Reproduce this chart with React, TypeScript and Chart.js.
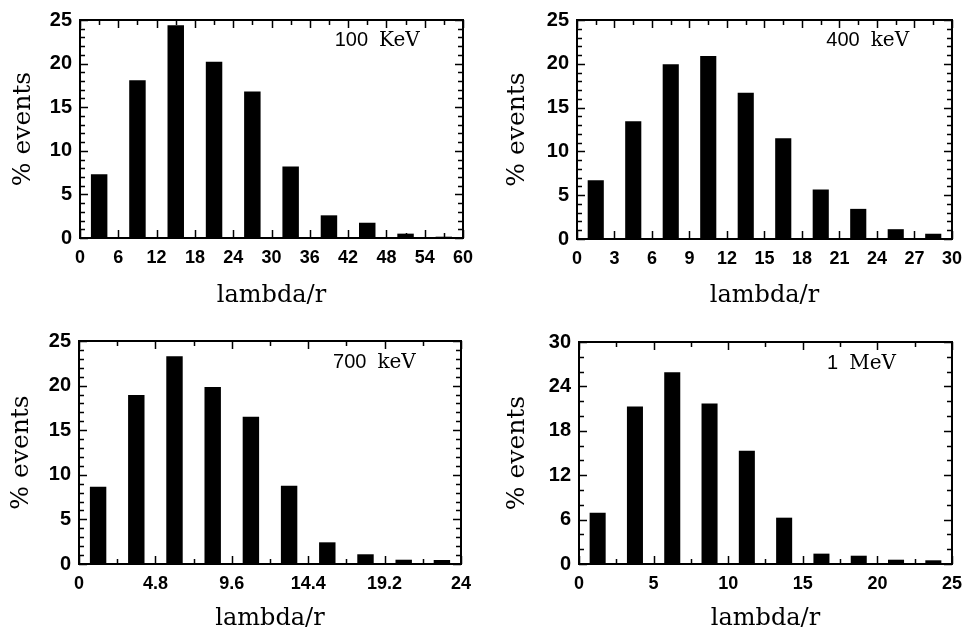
import React, { useEffect, useRef } from "react";
import { Chart, registerables } from "chart.js";

Chart.register(...registerables);

// ---- data ----
const bins100 = [3, 9, 15, 21, 27, 33, 39, 45, 51, 57];
const events100 = [7.3, 18.1, 24.4, 20.2, 16.8, 8.2, 2.6, 1.75, 0.5, 0.15];
const xTicks100 = [0, 6, 12, 18, 24, 30, 36, 42, 48, 54, 60];
const yTicks100 = [0, 5, 10, 15, 20, 25];

const bins400 = [1.5, 4.5, 7.5, 10.5, 13.5, 16.5, 19.5, 22.5, 25.5, 28.5];
const events400 = [6.7, 13.45, 19.95, 20.9, 16.7, 11.5, 5.65, 3.44, 1.12, 0.6];
const xTicks400 = [0, 3, 6, 9, 12, 15, 18, 21, 24, 27, 30];
const yTicks400 = [0, 5, 10, 15, 20, 25];

const bins700 = [1.2, 3.6, 6.0, 8.4, 10.8, 13.2, 15.6, 18.0, 20.4, 22.8];
const events700 = [8.67, 18.95, 23.3, 19.84, 16.5, 8.78, 2.43, 1.09, 0.48, 0.45];
const xTicks700 = [0, 4.8, 9.6, 14.4, 19.2, 24];
const yTicks700 = [0, 5, 10, 15, 20, 25];

const bins1000 = [1.25, 3.75, 6.25, 8.75, 11.25, 13.75, 16.25, 18.75, 21.25, 23.75];
const events1000 = [6.93, 21.3, 25.9, 21.7, 15.3, 6.26, 1.4, 1.12, 0.58, 0.5];
const xTicks1000 = [0, 5, 10, 15, 20, 25];
const yTicks1000 = [0, 6, 12, 18, 24, 30];

const energyNumbers = ["100", "400", "700", "1"];
const energyUnits = ["KeV", "keV", "keV", "MeV"];
const xMinorSteps = [3, 1.5, 2.4, 2.5];
const yMinorSteps = [1, 1, 1, 2];

const xTitle = "lambda/r";
const yTitle = "% events";

// ---- layout (positions/sizes only) ----
const layouts = [
  { box: { left: 0, top: 0, width: 485, height: 310 }, area: { left: 80, top: 15, right: 463, bottom: 238 }, yTitlePad: 8.6, xTitlePad: 0 },
  { box: { left: 485, top: 0, width: 486, height: 310 }, area: { left: 92, top: 16, right: 475, bottom: 239 }, yTitlePad: 17, xTitlePad: 0 },
  { box: { left: 0, top: 310, width: 485, height: 322 }, area: { left: 79, top: 31, right: 461, bottom: 254 }, yTitlePad: 6.6, xTitlePad: -1 },
  { box: { left: 485, top: 310, width: 486, height: 322 }, area: { left: 94, top: 32, right: 476, bottom: 254 }, yTitlePad: 17, xTitlePad: -1 },
];

const panelData = [
  { bins: bins100, values: events100, xTicks: xTicks100, yTicks: yTicks100 },
  { bins: bins400, values: events400, xTicks: xTicks400, yTicks: yTicks400 },
  { bins: bins700, values: events700, xTicks: xTicks700, yTicks: yTicks700 },
  { bins: bins1000, values: events1000, xTicks: xTicks1000, yTicks: yTicks1000 },
];

const SANS = 'Arial, "Liberation Sans", Helvetica, sans-serif';
const SERIF = '"DejaVu Serif", serif';

function Panel({ idx }: { idx: number }) {
  const ref = useRef<HTMLCanvasElement>(null);
  const d = panelData[idx];
  const L = layouts[idx];

  useEffect(() => {
    const xMinor = xMinorSteps[idx];
    const yMinor = yMinorSteps[idx];
    const isMajor = (v: number, arr: number[]) => arr.some((m) => Math.abs(m - v) < 1e-6);

    const framePlugin = {
      id: "frame",
      beforeDatasetsDraw(chart: any) {
        const { ctx, chartArea: a, scales } = chart;
        const xs = scales.x;
        const ys = scales.y;
        ctx.save();
        ctx.strokeStyle = "#000";
        ctx.lineWidth = 1.5;
        ctx.beginPath();
        const xmin = d.xTicks[0];
        const xmax = d.xTicks[d.xTicks.length - 1];
        const nx = Math.round((xmax - xmin) / xMinor);
        for (let i = 0; i <= nx; i++) {
          const v = xmin + i * xMinor;
          const px = Math.round(xs.getPixelForValue(v)) + 0.5;
          const len = isMajor(v, d.xTicks) ? 8 : 5;
          ctx.moveTo(px, a.bottom);
          ctx.lineTo(px, a.bottom - len);
          ctx.moveTo(px, a.top);
          ctx.lineTo(px, a.top + len);
        }
        const ymin = d.yTicks[0];
        const ymax = d.yTicks[d.yTicks.length - 1];
        const ny = Math.round((ymax - ymin) / yMinor);
        for (let i = 0; i <= ny; i++) {
          const v = ymin + i * yMinor;
          const py = Math.round(ys.getPixelForValue(v)) + 0.5;
          const len = isMajor(v, d.yTicks) ? 8 : 5;
          ctx.moveTo(a.left, py);
          ctx.lineTo(a.left + len, py);
          ctx.moveTo(a.right, py);
          ctx.lineTo(a.right - len, py);
        }
        ctx.stroke();
        ctx.restore();
      },
      afterDatasetsDraw(chart: any) {
        const { ctx, chartArea: a } = chart;
        ctx.save();
        ctx.strokeStyle = "#000";
        ctx.lineWidth = 2;
        ctx.strokeRect(a.left, a.top, a.right - a.left, a.bottom - a.top);
        // energy label
        const w = a.right - a.left;
        const h = a.bottom - a.top;
        const tx = a.left + 0.665 * w;
        const ty = a.top + 0.12 * h;
        ctx.fillStyle = "#000";
        ctx.textBaseline = "alphabetic";
        ctx.textAlign = "left";
        ctx.font = `20px ${SANS}`;
        ctx.fillText(energyNumbers[idx], tx, ty);
        const nw = ctx.measureText(energyNumbers[idx]).width;
        ctx.font = `20px ${SERIF}`;
        ctx.fillText(energyUnits[idx], tx + nw + 11, ty);
        ctx.restore();
      },
    };

    const chart = new Chart(ref.current as HTMLCanvasElement, {
      type: "bar",
      data: {
        datasets: [
          {
            data: d.bins.map((x, i) => ({ x, y: d.values[i] })),
            backgroundColor: "#000",
            borderWidth: 0,
            barPercentage: 0.43,
            categoryPercentage: 1,
          } as any,
        ],
      },
      options: {
        responsive: false,
        animation: false,
        devicePixelRatio: 1,
        layout: {
          padding: { left: 0, top: L.area.top, right: L.box.width - L.area.right, bottom: 0 },
        },
        plugins: { legend: { display: false }, tooltip: { enabled: false } },
        scales: {
          x: {
            type: "linear",
            offset: false,
            min: d.xTicks[0],
            max: d.xTicks[d.xTicks.length - 1],
            grid: { display: false, drawTicks: false },
            border: { display: false },
            afterBuildTicks: (s: any) => {
              s.ticks = d.xTicks.map((v) => ({ value: v }));
            },
            afterFit: (s: any) => {
              s.height = L.box.height - L.area.bottom;
            },
            ticks: {
              autoSkip: false,
              maxRotation: 0,
              color: "#000",
              padding: 9,
              font: { family: SANS, size: 18, weight: "bold" },
              callback: (v: any) => String(v),
            },
            title: {
              display: true,
              text: xTitle,
              color: "#000",
              font: { family: SERIF, size: 24 },
              padding: { top: 0, bottom: L.xTitlePad },
            },
          } as any,
          y: {
            type: "linear",
            min: d.yTicks[0],
            max: d.yTicks[d.yTicks.length - 1],
            grid: { display: false, drawTicks: false },
            border: { display: false },
            afterBuildTicks: (s: any) => {
              s.ticks = d.yTicks.map((v) => ({ value: v }));
            },
            afterFit: (s: any) => {
              s.width = L.area.left;
            },
            ticks: {
              autoSkip: false,
              color: "#000",
              padding: 8,
              font: { family: SANS, size: 20, weight: "bold" },
              callback: (v: any) => String(v),
            },
            title: {
              display: true,
              text: yTitle,
              color: "#000",
              font: { family: SERIF, size: 25 },
              padding: { top: L.yTitlePad, bottom: 0 },
            },
          } as any,
        },
      },
      plugins: [framePlugin as any],
    });
    return () => chart.destroy();
  }, [idx]);

  return (
    <canvas
      ref={ref}
      width={L.box.width}
      height={L.box.height}
      style={{
        position: "absolute",
        left: L.box.left,
        top: L.box.top,
        width: L.box.width,
        height: L.box.height,
      }}
    />
  );
}

export default function App() {
  return (
    <div
      style={{
        position: "absolute",
        left: 0,
        top: 0,
        width: 971,
        height: 632,
        background: "#fff",
        overflow: "hidden",
      }}
    >
      {[0, 1, 2, 3].map((i) => (
        <Panel key={i} idx={i} />
      ))}
    </div>
  );
}
